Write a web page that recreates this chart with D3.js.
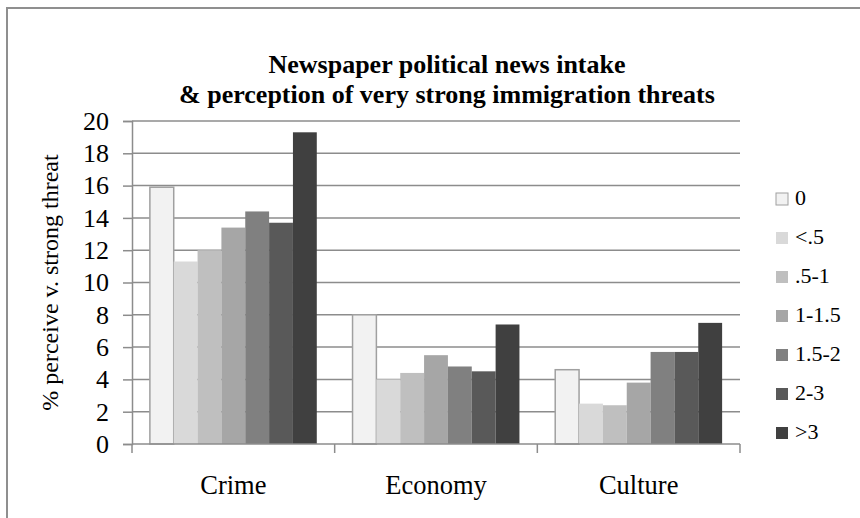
<!DOCTYPE html>
<html><head><meta charset="utf-8">
<script src="https://cdn.jsdelivr.net/npm/d3@7"></script>
<style>body{margin:0;background:#fff}svg{display:block}</style>
</head><body>
<svg id="c" width="860" height="518"></svg>
<script>
const categories = ["Crime", "Economy", "Culture"];
const seriesNames = ["0", "<.5", ".5-1", "1-1.5", "1.5-2", "2-3", ">3"];
const crimeValues = [15.9, 11.3, 12.0, 13.4, 14.4, 13.7, 19.3];
const economyValues = [8.0, 4.0, 4.4, 5.5, 4.8, 4.5, 7.4];
const cultureValues = [4.6, 2.5, 2.4, 3.8, 5.7, 5.7, 7.5];
const yTicks = [0, 2, 4, 6, 8, 10, 12, 14, 16, 18, 20];
const titleLines = ["Newspaper political news intake", "& perception of very strong immigration threats"];
const yTitle = "% perceive v. strong threat";
const colors = ["#f2f2f2", "#d9d9d9", "#bfbfbf", "#a6a6a6", "#808080", "#595959", "#404040"];

const FONT = "Liberation Serif";
const data = [crimeValues, economyValues, cultureValues];
const svg = d3.select("#c");
const L = 132, R = 740, T = 121, B = 444;

// outer frame
svg.append("rect").attr("x", 7).attr("y", 8).attr("width", 880).attr("height", 540)
  .attr("fill", "none").attr("stroke", "#8f8f8f").attr("stroke-width", 2);

const x0 = d3.scaleBand().domain(categories).range([L, R]).padding(0);
const gap = x0.bandwidth() * 0.75 / 8.5;
const x1 = d3.scaleBand().domain(seriesNames).range([gap, x0.bandwidth() - gap]).padding(0);
const y = d3.scaleLinear().domain([0, 20]).range([B, T]);

// gridlines
svg.append("g").selectAll("line").data(yTicks.slice(1)).join("line")
  .attr("x1", L).attr("x2", R).attr("y1", d => y(d)).attr("y2", d => y(d))
  .attr("stroke", "#8c8c8c").attr("stroke-width", 1.5);

// bars
const g = svg.append("g");
categories.forEach((c, ci) => {
  g.append("g").attr("transform", `translate(${x0(c)},0)`)
    .selectAll("rect").data(data[ci]).join("rect")
    .attr("x", (d, i) => x1(seriesNames[i]))
    .attr("width", x1.bandwidth())
    .attr("y", d => y(d)).attr("height", d => B - y(d))
    .attr("fill", (d, i) => colors[i])
    .attr("stroke", (d, i) => i === 0 ? "#a0a0a0" : "none")
    .attr("stroke-width", 1.5);
});

// y axis
const yAxis = d3.axisLeft(y).tickValues(yTicks).tickSize(9).tickPadding(14).tickFormat(d3.format("d"));
const ya = svg.append("g").attr("transform", `translate(${L},0)`).call(yAxis)
  .attr("font-family", FONT).attr("font-size", 26);
ya.select(".domain").attr("stroke", "#8c8c8c").attr("stroke-width", 1.5);
ya.selectAll(".tick line").attr("stroke", "#8c8c8c").attr("stroke-width", 1.5);
ya.selectAll(".tick text").attr("fill", "#000");

// x axis
const xa = svg.append("g").attr("transform", `translate(0,${B})`);
xa.append("line").attr("x1", L).attr("x2", R).attr("stroke", "#8c8c8c").attr("stroke-width", 1.5);
const boundaries = categories.map(c => x0(c)).concat([R]);
xa.selectAll("line.t").data(boundaries).join("line").attr("class", "t")
  .attr("x1", d => d).attr("x2", d => d).attr("y1", 0).attr("y2", 9)
  .attr("stroke", "#8c8c8c").attr("stroke-width", 1.5);
xa.selectAll("text").data(categories).join("text")
  .attr("x", d => x0(d) + x0.bandwidth() / 2).attr("y", 50)
  .attr("text-anchor", "middle").attr("font-family", FONT).attr("font-size", 26.5).text(d => d);

// y title
svg.append("text").attr("transform", `translate(58,${(T + B) / 2}) rotate(-90)`)
  .attr("text-anchor", "middle").attr("font-family", FONT).attr("font-size", 24).text(yTitle);

// title
svg.append("g").selectAll("text").data(titleLines).join("text")
  .attr("x", 447).attr("y", (d, i) => 73 + i * 30)
  .attr("text-anchor", "middle").attr("font-family", FONT).attr("font-weight", "bold")
  .attr("font-size", 26).text(d => d);

// legend
const lg = svg.append("g").selectAll("g").data(seriesNames).join("g")
  .attr("transform", (d, i) => `translate(776,${193 + i * 39})`);
lg.append("rect").attr("width", 12).attr("height", 12)
  .attr("fill", (d, i) => colors[i])
  .attr("stroke", (d, i) => i === 0 ? "#a0a0a0" : "none").attr("stroke-width", 1);
lg.append("text").attr("x", 19).attr("y", 12).attr("font-family", FONT).attr("font-size", 22).text(d => d);
</script>
</body></html>
